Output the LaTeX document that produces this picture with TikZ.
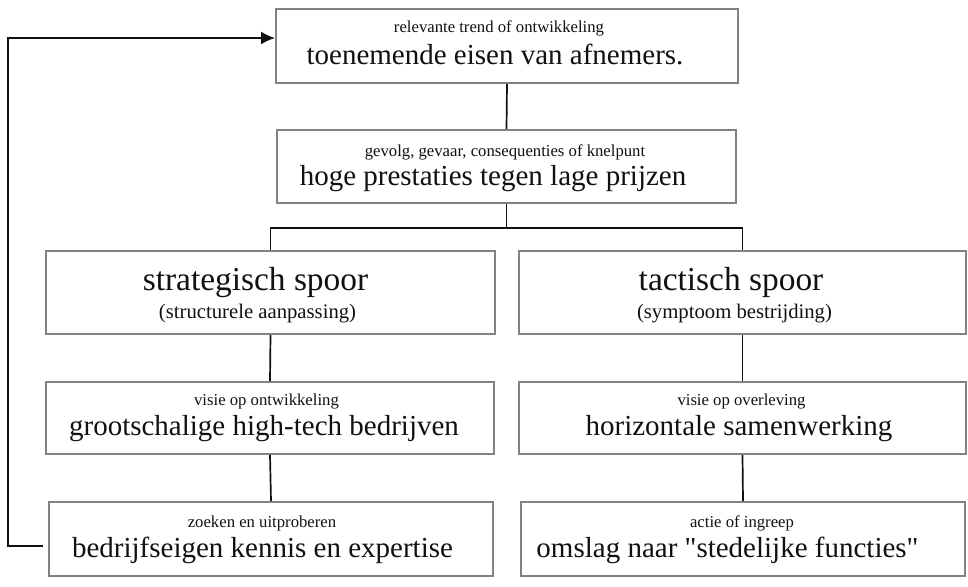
\documentclass[tikz,border=0pt]{standalone}
\usepackage{fontspec}
\setmainfont{Liberation Serif}
\newfontfamily\qfont{Liberation Serif}
\usetikzlibrary{arrows.meta,calc}
\definecolor{boxgray}{HTML}{7F8383}
\definecolor{ink}{HTML}{111111}
\begin{document}
\begin{tikzpicture}[x=1pt,y=-1pt,
  box/.style={draw=boxgray, line width=2pt, fill=white, inner sep=0pt, rectangle},
  conn/.style={draw=ink, line width=1.7pt},
  small/.style={anchor=base, inner sep=0pt, text=ink, font=\fontsize{16.7}{19}\selectfont},
  big/.style={anchor=base, inner sep=0pt, text=ink, font=\fontsize{29}{32}\selectfont},
  head/.style={anchor=base, inner sep=0pt, text=ink, font=\fontsize{33.4}{37}\selectfont},
  sub/.style={anchor=base, inner sep=0pt, text=ink, font=\fontsize{20.7}{24}\selectfont}]
\useasboundingbox (0,0) rectangle (968,586);
% boxes
\node[box, minimum width=462pt, minimum height=74pt] (top) at (507,46) {};
\node[box, minimum width=459pt, minimum height=73pt] (sec) at (506.5,166.5) {};
\node[box, minimum width=449pt, minimum height=83pt] (strat) at (270.5,292.5) {};
\node[box, minimum width=447pt, minimum height=83pt] (tact) at (742.5,292.5) {};
\node[box, minimum width=448pt, minimum height=72pt] (midL) at (270,418) {};
\node[box, minimum width=447pt, minimum height=72pt] (midR) at (742.5,418) {};
\node[box, minimum width=444pt, minimum height=74pt] (botL) at (271,539) {};
\node[box, minimum width=444pt, minimum height=74pt] (botR) at (743,539) {};
% texts
\node[small] (t1) at (499,33) {relevante trend of ontwikkeling};
\node[big] (t2) at (495,64) {toenemende eisen van afnemers.};
\node[small] (t3) at (505,156) {gevolg, gevaar, consequenties of knelpunt};
\node[big] (t4) at (493,185) {hoge prestaties tegen lage prijzen};
\node[head] (t5) at (255.5,290) {strategisch spoor};
\node[sub] (t6) at (257.5,318) {(structurele aanpassing)};
\node[head] (t7) at (731,290) {tactisch spoor};
\node[sub] (t8) at (734.5,318) {(symptoom bestrijding)};
\node[small] (t9) at (266.5,405) {visie op ontwikkeling};
\node[big] (t10) at (264,435) {grootschalige high-tech bedrijven};
\node[small] (t11) at (741.5,405) {visie op overleving};
\node[big] (t12) at (739,435) {horizontale samenwerking};
\node[small] (t13) at (262,527) {zoeken en uitproberen};
\node[big] (t14) at (262.5,557) {bedrijfseigen kennis en expertise};
\node[small] (t15) at (742,527) {actie of ingreep};
\node[big] (t16) at (727.5,557) {omslag naar {\qfont"}stedelijke functies{\qfont"}};
% connectors
\draw[conn] (top.south) -- (sec.north);
\draw[conn] (sec.south) -- ++(0,24) coordinate (br);
\draw[conn] (strat.north) |- (br) -| (tact.north);
\draw[conn] (strat.south) -- (midL.north);
\draw[conn] (midL.south) -- (botL.north);
\draw[conn] (tact.south) -- (midR.north);
\draw[conn] (midR.south) -- (botR.north);
\coordinate (fb) at (43,546);
\coordinate (fc) at (8,546);
\draw[conn, -{Latex[length=14pt,width=13pt]}] (fb) -- (fc) |- (top.west |- 0,38);
\end{tikzpicture}
\end{document}
